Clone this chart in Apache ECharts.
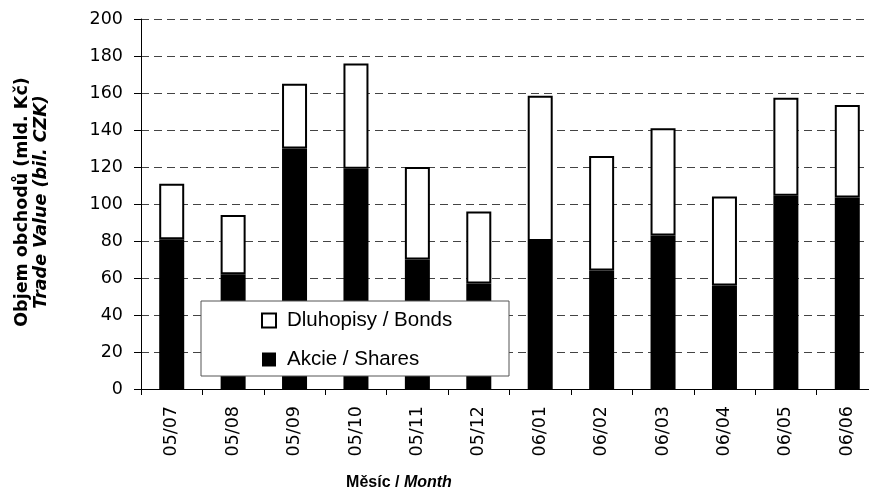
<!DOCTYPE html>
<html>
<head>
<meta charset="utf-8">
<script src="https://cdn.jsdelivr.net/npm/echarts@6/dist/echarts.min.js"></script>
<style>
  html, body { margin: 0; padding: 0; background: #fff; overflow: hidden; }
  #chart { width: 880px; height: 493px; }
</style>
</head>
<body>
<div id="chart"></div>
<script>
const categories = ['05/07','05/08','05/09','05/10','05/11','05/12','06/01','06/02','06/03','06/04','06/05','06/06'];
const shares = [81, 62, 130, 119, 70, 57, 80, 64, 83, 56, 104.5, 103.5];
const bonds  = [30, 32, 35, 57, 50, 39, 78.5, 62, 58, 48, 53, 50];
const yTicks = { min: 0, max: 200, interval: 20 };
const seriesNames = ['Dluhopisy / Bonds', 'Akcie / Shares'];

const chart = echarts.init(document.getElementById('chart'), null, { renderer: 'canvas' });
chart.setOption({
  animation: false,
  backgroundColor: '#fff',
  grid: { left: 141, top: 19, width: 737, height: 370, containLabel: false },
  xAxis: {
    type: 'category',
    data: categories,
    axisLine: { lineStyle: { color: '#000', width: 1 } },
    axisTick: { show: true, length: 6, lineStyle: { color: '#000' } },
    axisLabel: { rotate: 90, margin: 17, color: '#000', fontFamily: 'DejaVu Sans', fontSize: 17.5 },
    splitLine: { show: false }
  },
  yAxis: {
    type: 'value',
    min: yTicks.min, max: yTicks.max, interval: yTicks.interval,
    axisLine: { show: true, lineStyle: { color: '#000', width: 1 } },
    axisTick: { show: true, length: 7, lineStyle: { color: '#000' } },
    axisLabel: { margin: 18, color: '#000', fontFamily: 'DejaVu Sans', fontSize: 17.5 },
    splitLine: { show: true, lineStyle: { color: '#444', width: 1, type: [8, 5] } }
  },
  legend: {
    orient: 'vertical',
    left: 261, top: 310,
    padding: 0,
    itemGap: 18,
    itemWidth: 14, itemHeight: 14,
    icon: 'rect',
    z: 10,
    textStyle: { fontFamily: 'Liberation Sans', fontSize: 20.5, color: '#000', padding: [0, 0, 0, 6] },
    data: [
      { name: seriesNames[0], itemStyle: { color: '#fff', borderColor: '#000', borderWidth: 2 } },
      { name: seriesNames[1], itemStyle: { color: '#000', borderColor: '#000', borderWidth: 0 } }
    ]
  },
  graphic: [
    { type: 'rect', z: 5, shape: { x: 201, y: 301, width: 308, height: 75 },
      style: { fill: '#fff', stroke: '#555', lineWidth: 1 } },
    { type: 'text', z: 5, x: 399, y: 483,
      style: { text: '{a|Měsíc / }{b|Month}', align: 'center', verticalAlign: 'middle',
        rich: {
          a: { fontFamily: 'Liberation Sans', fontWeight: 'bold', fontSize: 16, fill: '#000' },
          b: { fontFamily: 'Liberation Sans', fontWeight: 'bold', fontStyle: 'italic', fontSize: 16, fill: '#000' }
        } } },
    { type: 'text', z: 5, x: 32, y: 202, rotation: Math.PI / 2,
      style: { text: '{a|Objem obchodů (mld. Kč)}\n{b|Trade Value (bil. CZK)}', align: 'center', verticalAlign: 'middle',
        rich: {
          a: { fontFamily: 'DejaVu Sans', fontWeight: 'bold', fontSize: 17.5, lineHeight: 19, fill: '#000', align: 'center' },
          b: { fontFamily: 'DejaVu Sans', fontWeight: 'bold', fontStyle: 'italic', fontSize: 17.5, lineHeight: 19, fill: '#000', align: 'center' }
        } } }
  ],
  series: [
    {
      name: seriesNames[1], type: 'bar', stack: 'total', barWidth: 25,
      itemStyle: { color: '#000', borderColor: '#000', borderWidth: 0 },
      data: shares
    },
    {
      name: seriesNames[0], type: 'bar', stack: 'total', barWidth: 25,
      itemStyle: { color: '#fff', borderColor: '#000', borderWidth: 2 },
      data: bonds
    }
  ]
});
</script>
</body>
</html>
